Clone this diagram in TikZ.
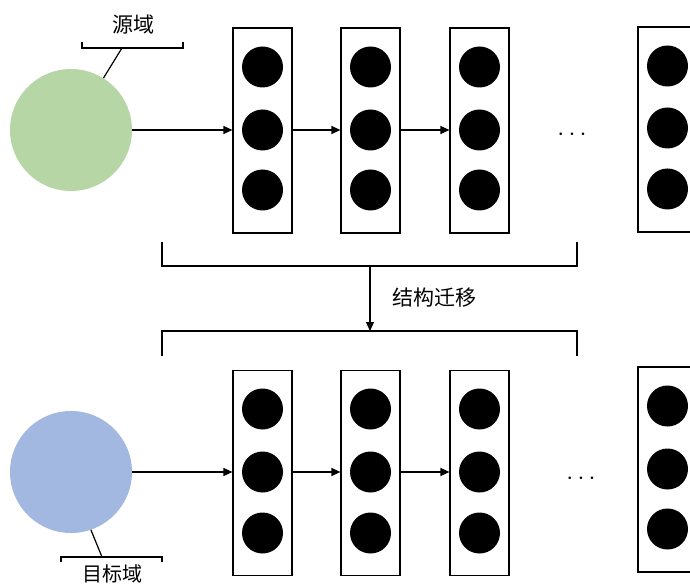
\documentclass[tikz,border=0pt]{standalone}
\usepackage{fontspec}
\newfontfamily\cjk{Noto Sans CJK SC}
\usetikzlibrary{arrows.meta}
\definecolor{srcgreen}{RGB}{182,215,165}
\definecolor{tgtblue}{RGB}{163,184,224}
\begin{document}
\begin{tikzpicture}[x=1pt,y=-1pt,
  layerbox/.style={draw, line width=1.2pt, minimum width=59pt, minimum height=205pt, inner sep=0pt},
  neuron/.style={circle, fill=black, minimum size=41pt, inner sep=0pt},
  domcirc/.style={circle, minimum size=122pt, inner sep=0pt},
  conn/.style={line width=1.2pt, -{Triangle[length=9pt,width=8pt]}},
  brk/.style={line width=1.2pt},
  lbl/.style={font=\cjk\fontsize{21}{21}\selectfont, inner sep=0pt},
  dotstext/.style={font=\fontsize{24}{24}\selectfont, inner sep=0pt}]
\useasboundingbox (0,0) rectangle (690,585);
\clip (0,0) rectangle (690,585);
% domains
\node[domcirc, fill=srcgreen] (src) at (71,130) {};
\node[domcirc, fill=tgtblue] (tgt) at (71,472) {};
% top layers
\node[layerbox] (t1) at (262.5,130.5) {};
\node[layerbox] (t2) at (370.5,130.5) {};
\node[layerbox] (t3) at (479.5,130.5) {};
\node[layerbox] (t4) at (667.5,129.5) {};
\foreach \x in {262.5,370.5,479.5}{
  \node[neuron] at (\x,67) {};
  \node[neuron] at (\x,130) {};
  \node[neuron] at (\x,190) {};
}
\node[neuron] (t4a) at (667.5,66) {};
\node[neuron] (t4b) at (667.5,128) {};
\node[neuron] (t4c) at (667.5,189) {};
% bottom layers
\node[layerbox] (b1) at (262.5,473) {};
\node[layerbox] (b2) at (370.5,473) {};
\node[layerbox] (b3) at (479.5,473) {};
\node[layerbox] (b4) at (667.5,469.5) {};
\foreach \x in {262.5,370.5,479.5}{
  \node[neuron] at (\x,409) {};
  \node[neuron] at (\x,472) {};
  \node[neuron] at (\x,533) {};
}
\node[neuron] (b4a) at (667.5,406) {};
\node[neuron] (b4b) at (667.5,469) {};
\node[neuron] (b4c) at (667.5,529) {};
% ellipses
\node[dotstext] (tdots) at (572,135) {$\cdots$};
\node[dotstext] (bdots) at (581,479) {$\cdots$};
% connectors top
\draw[conn] (src.east) -- (src.east -| t1.west);
\draw[conn] (t1.east |- src.east) -- (t2.west |- src.east);
\draw[conn] (t2.east |- src.east) -- (t3.west |- src.east);
% connectors bottom
\draw[conn] (tgt.east) -- (tgt.east -| b1.west);
\draw[conn] (b1.east |- tgt.east) -- (b2.west |- tgt.east);
\draw[conn] (b2.east |- tgt.east) -- (b3.west |- tgt.east);
% brackets and transfer arrow
\coordinate (ul) at (162,242);
\coordinate (ur) at (577,242);
\coordinate (um) at (370,266);
\coordinate (ll) at (162,356);
\coordinate (lr) at (577,356);
\coordinate (lm) at (370,331);
\draw[brk] (ul) |- (ur |- um) -- (ur);
\draw[brk] (ll) |- (lr |- lm) -- (lr);
\draw[conn] (um) -- (lm);
\node[lbl, anchor=west] (transfer) at (392,298) {结构迁移};
% source label
\node[lbl] (srclbl) at (133,25) {源域};
\coordinate (sbl) at (82,42);
\coordinate (sbr) at (183,42);
\coordinate (sbm) at (122,48);
\draw[brk] (sbl) |- (sbr |- sbm) -- (sbr);
\draw[brk] (sbm) -- (src.58);
% target label
\node[lbl, font=\cjk\fontsize{20}{20}\selectfont] (tgtlbl) at (112,574) {目标域};
\coordinate (tbl) at (61,562);
\coordinate (tbr) at (162,562);
\coordinate (tbm) at (102,557);
\draw[brk] (tbl) |- (tbr |- tbm) -- (tbr);
\draw[brk] (tbm) -- (tgt.-71);
\end{tikzpicture}
\end{document}
